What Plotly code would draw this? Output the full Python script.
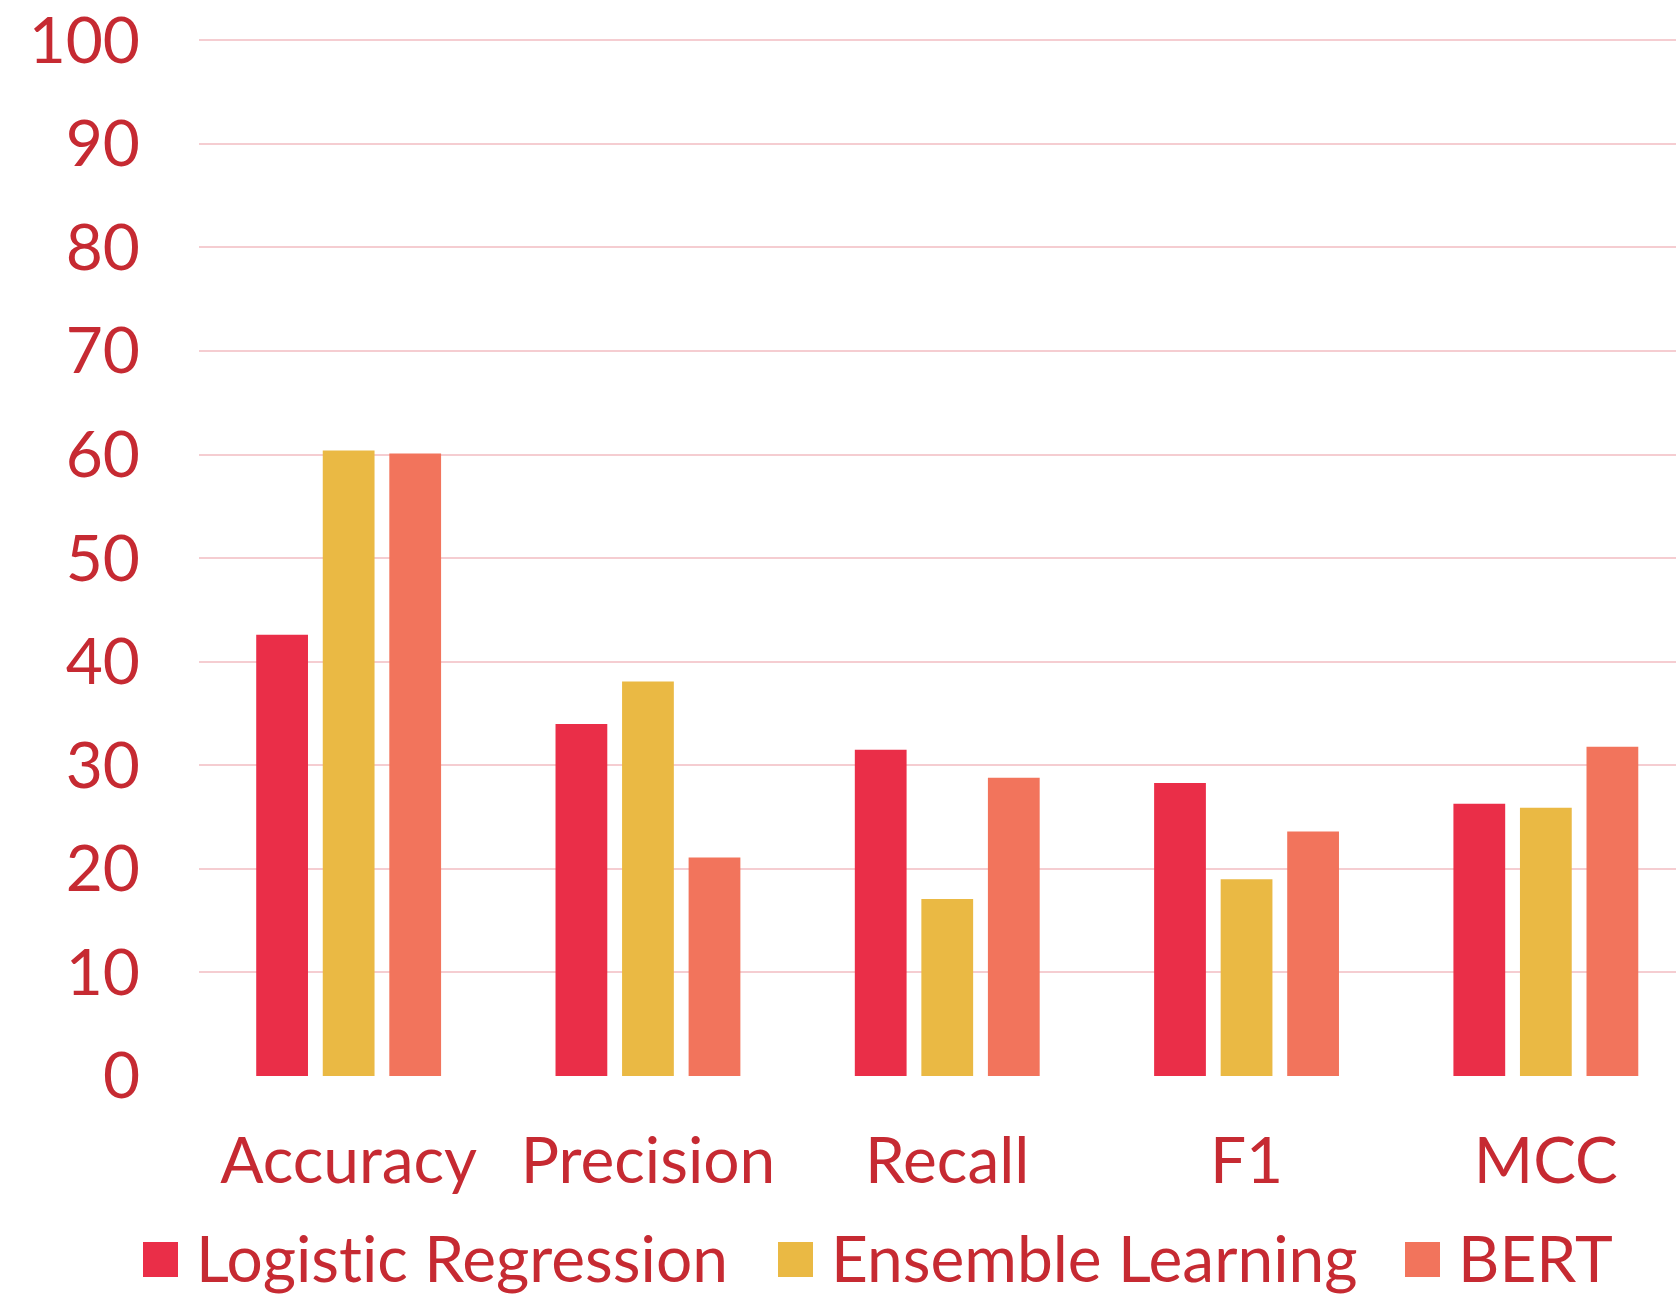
import plotly.graph_objects as go

categories = ["Accuracy", "Precision", "Recall", "F1", "MCC"]
series_names = ["Logistic Regression", "Ensemble Learning", "BERT"]
logistic_regression = [42.6, 34.0, 31.5, 28.3, 26.3]
ensemble_learning = [60.4, 38.1, 17.1, 19.0, 25.9]
bert = [60.1, 21.1, 28.8, 23.6, 31.8]
y_ticks = [0, 10, 20, 30, 40, 50, 60, 70, 80, 90, 100]

colors = ["#EA2E48", "#EAB944", "#F2745C"]
text_color = "#C62A32"
grid_color = "#F5CDD1"
FONT = "Lato"

W, H = 1676, 1297
L, R, T, B = 199, 0, 30, 221
PW, PH = W - L - R, H - T - B

fig = go.Figure()
for name, vals, col in zip(series_names, [logistic_regression, ensemble_learning, bert], colors):
    fig.add_trace(go.Bar(x=categories, y=vals, name=name, marker=dict(color=col, line=dict(width=0)),
                         showlegend=False))

fig.update_layout(
    width=W, height=H, autosize=False,
    margin=dict(l=L, r=R, t=T, b=B, pad=0),
    paper_bgcolor="white", plot_bgcolor="white",
    barmode="group", bargap=0.333, bargroupgap=0.222,
    font=dict(family=FONT, color=text_color, size=64),
)
fig.update_xaxes(range=[-0.5, -0.5 + PW / 299.3], showgrid=False, zeroline=False, showline=False,
                 ticks="", tickfont=dict(family=FONT, size=64, color=text_color), ticklabelstandoff=42)
fig.update_yaxes(range=[0, 101], tickvals=y_ticks, ticktext=[str(v) for v in y_ticks],
                 showgrid=True, gridcolor=grid_color, gridwidth=1.6,
                 zeroline=False, showline=False, ticks="", ticklabeloverflow="allow",
                 tickfont=dict(family=FONT, size=64, color=text_color), ticklabelstandoff=58)

# custom legend (square swatches + labels), positioned in pixels converted to paper coords
def px_x(px):
    return (px - L) / PW

def px_y(py):
    return (H - B - py) / PH

def no_ligature(s):
    # zero-width non-joiner between t and i to avoid the Lato "ti" ligature
    return s.replace("ti", "t\u200ci")

legend_sq_x = [143, 778, 1405]
sq = 35
sq_top = 1242
for name, col, x0 in zip(series_names, colors, legend_sq_x):
    fig.add_shape(type="rect", xref="paper", yref="paper",
                  x0=px_x(x0), x1=px_x(x0 + sq), y0=px_y(sq_top + sq), y1=px_y(sq_top),
                  fillcolor=col, line=dict(width=0))
    fig.add_annotation(xref="paper", yref="paper", x=px_x(x0 + sq + 16), y=px_y(sq_top + sq / 2 - 2),
                       text=no_ligature(name), showarrow=False, xanchor="left", yanchor="middle",
                       font=dict(family=FONT, size=64, color=text_color))

fig.write_html("out.html")
